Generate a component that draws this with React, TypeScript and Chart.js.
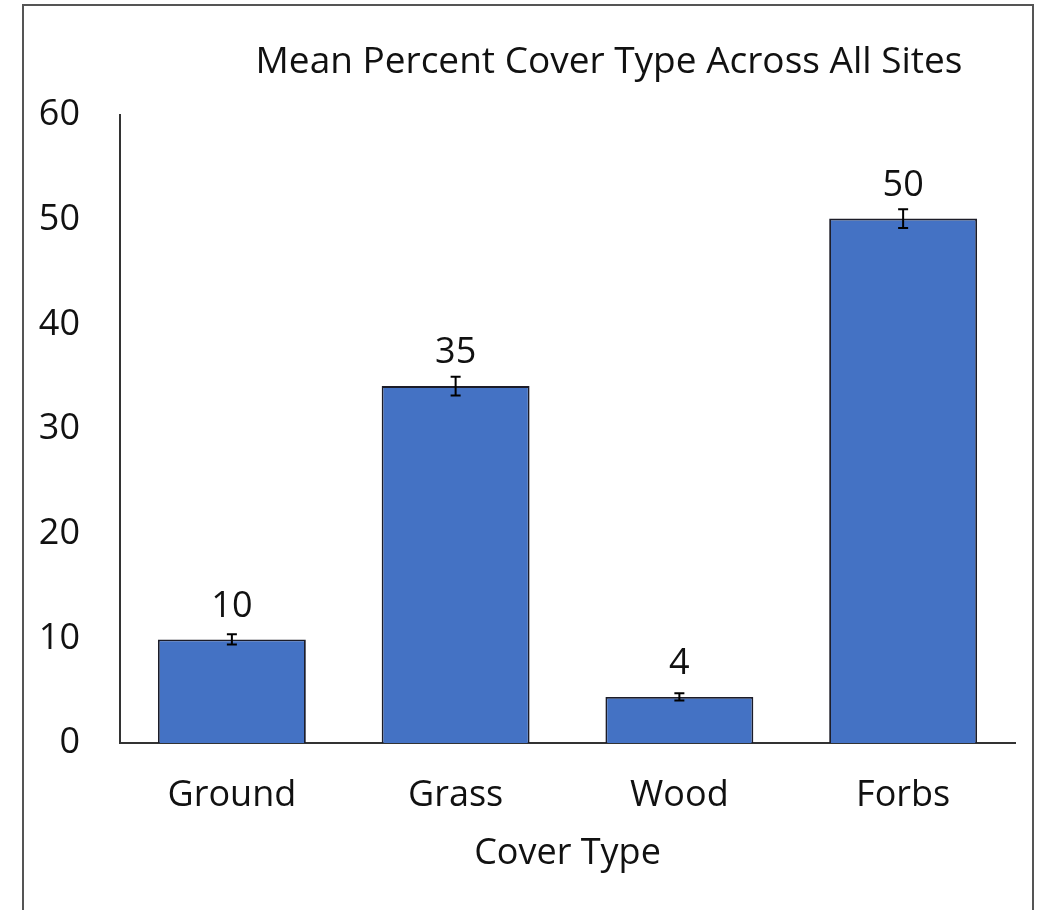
import React, { useEffect, useRef } from "react";
import { Chart, registerables } from "chart.js";

Chart.register(...registerables);

const categories = ["Ground", "Grass", "Wood", "Forbs"];
const meanValues = [9.9, 34.1, 4.4, 50.1];
const errorValues = [0.5, 0.9, 0.35, 0.9];
const valueLabels = ["10", "35", "4", "50"];
const yMin = 0;
const yMax = 60;
const yStep = 10;
const chartTitle = "Mean Percent Cover Type Across All Sites";
const xAxisTitle = "Cover Type";

const FONT = "'Open Sans', sans-serif";
const TEXT = "#111111";

const errorBarPlugin = {
  id: "errorBars",
  afterDatasetsDraw(chart: any) {
    const ctx = chart.ctx;
    const meta = chart.getDatasetMeta(0);
    const y = chart.scales.y;
    ctx.save();
    ctx.strokeStyle = "#000000";
    ctx.lineWidth = 2;
    meta.data.forEach((el: any, i: number) => {
      const v = meanValues[i];
      const e = errorValues[i];
      const top = y.getPixelForValue(v + e);
      const bot = y.getPixelForValue(v - e);
      const x = el.x;
      ctx.beginPath();
      ctx.moveTo(x, top);
      ctx.lineTo(x, bot);
      ctx.moveTo(x - 5, top);
      ctx.lineTo(x + 5, top);
      ctx.moveTo(x - 5, bot);
      ctx.lineTo(x + 5, bot);
      ctx.stroke();
    });
    ctx.restore();
  },
};

const dataLabelPlugin = {
  id: "dataLabels",
  afterDatasetsDraw(chart: any) {
    const ctx = chart.ctx;
    const meta = chart.getDatasetMeta(0);
    ctx.save();
    ctx.fillStyle = TEXT;
    ctx.font = `36px ${FONT}`;
    ctx.textAlign = "center";
    ctx.textBaseline = "middle";
    meta.data.forEach((el: any, i: number) => {
      ctx.fillText(valueLabels[i], el.x, el.y - 33);
    });
    ctx.restore();
  },
};

const titlePlugin = {
  id: "customTitle",
  afterDraw(chart: any) {
    const ctx = chart.ctx;
    ctx.save();
    ctx.fillStyle = TEXT;
    ctx.font = `37px ${FONT}`;
    ctx.textAlign = "center";
    ctx.textBaseline = "middle";
    ctx.fillText(chartTitle, 609, 62);
    ctx.restore();
  },
};

export default function App() {
  const ref = useRef<HTMLCanvasElement | null>(null);

  useEffect(() => {
    if (!ref.current) return;
    const chart = new Chart(ref.current, {
      type: "bar",
      data: {
        labels: categories,
        datasets: [
          {
            data: meanValues,
            backgroundColor: "#4472C4",
            borderColor: "#1c1c28",
            borderWidth: 1.8,
            barPercentage: 0.661,
            categoryPercentage: 1,
          },
        ],
      },
      options: {
        animation: false,
        responsive: false,
        maintainAspectRatio: false,
        devicePixelRatio: 1,
        layout: { padding: { top: 115, right: 36, bottom: 0, left: 0 } },
        plugins: {
          legend: { display: false },
          title: { display: false },
          tooltip: { enabled: false },
        },
        scales: {
          x: {
            grid: { display: false, drawTicks: false },
            border: { display: true, color: "#333333", width: 2 },
            ticks: {
              color: TEXT,
              font: { family: FONT, size: 36 },
              padding: 31,
              maxRotation: 0,
            },
            title: {
              display: true,
              text: xAxisTitle,
              color: TEXT,
              font: { family: FONT, size: 36 },
              padding: { top: 0, bottom: 35 },
            },
            afterFit(scale: any) {
              scale.height = 167;
            },
          },
          y: {
            min: yMin,
            max: yMax,
            grid: { display: false, drawTicks: false },
            border: { display: true, color: "#333333", width: 2 },
            ticks: {
              stepSize: yStep,
              color: TEXT,
              font: { family: FONT, size: 36 },
              padding: 40,
            },
            afterFit(scale: any) {
              scale.width = 120;
            },
          },
        },
      },
      plugins: [errorBarPlugin, dataLabelPlugin, titlePlugin],
    });
    return () => chart.destroy();
  }, []);

  return (
    <div
      style={{
        position: "fixed",
        left: 0,
        top: 0,
        width: 1051,
        height: 910,
        background: "#ffffff",
        overflow: "hidden",
      }}
    >
      <div
        style={{
          position: "absolute",
          left: 22,
          top: 4,
          width: 1012,
          height: 960,
          borderLeft: "2px solid #555555",
          borderTop: "2px solid #555555",
          borderRight: "2px solid #555555",
          boxSizing: "border-box",
        }}
      />
      <canvas
        ref={ref}
        width={1051}
        height={910}
        style={{ position: "absolute", left: 0, top: 0, width: 1051, height: 910 }}
      />
    </div>
  );
}
